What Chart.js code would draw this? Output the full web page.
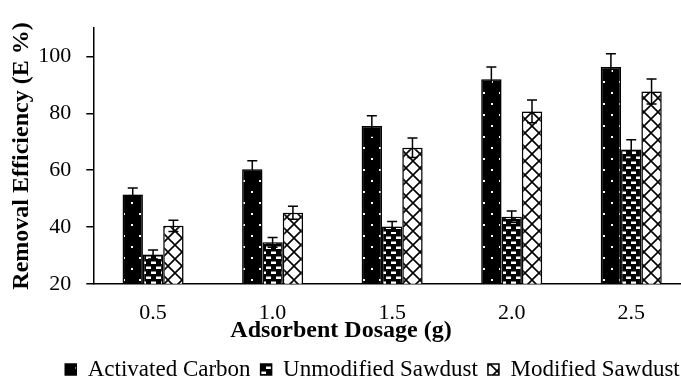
<!DOCTYPE html>
<html>
<head>
<meta charset="utf-8">
<script src="https://cdn.jsdelivr.net/npm/chart.js@4.4.1/dist/chart.umd.min.js"></script>
<style>
  html, body { margin: 0; padding: 0; background: #fff; overflow: hidden; width: 681px; height: 379px; }
  #wrap { position: relative; width: 691px; height: 391px; }
</style>
</head>
<body>
<div id="wrap"><canvas id="barChart" width="691" height="391"></canvas></div>
<script>
// data
const dosages = ['0.5', '1.0', '1.5', '2.0', '2.5'];
const activatedCarbon = [51.4, 60.3, 75.6, 92.0, 96.3];
const unmodifiedSawdust = [30.3, 34.6, 40.2, 43.6, 67.3];
const modifiedSawdust = [40.4, 45.0, 67.9, 80.7, 87.7];
const errActivated = [2.3, 3.0, 3.6, 4.3, 4.7];
const errUnmodified = [1.6, 1.7, 1.7, 2.0, 3.4];
const errModified = [2.0, 2.3, 3.4, 4.0, 4.4];

const FONT = "'Liberation Serif', 'Times New Roman', serif";

// fill patterns
function makePattern(w, h, paint) {
    const c = document.createElement('canvas');
    c.width = w; c.height = h;
    paint(c.getContext('2d'));
    return document.getElementById('barChart').getContext('2d').createPattern(c, 'repeat');
}
const dots = makePattern(16, 22, g => {
    g.fillStyle = '#000'; g.fillRect(0, 0, 16, 22);
    g.fillStyle = '#fff';
    g.fillRect(3, 4, 2, 2);
    g.fillRect(11, 15, 2, 2);
});
const bricks = makePattern(10, 10, g => {
    g.fillStyle = '#000'; g.fillRect(0, 0, 10, 10);
    g.fillStyle = '#fff';
    g.fillRect(1, 1.5, 5, 2.5);
    g.fillRect(6, 6.5, 4, 2.5);
    g.fillRect(0, 6.5, 1, 2.5);
});
const trellis = makePattern(14, 14, g => {
    g.fillStyle = '#fff'; g.fillRect(0, 0, 14, 14);
    g.strokeStyle = '#000'; g.lineWidth = 1.6;
    g.beginPath();
    g.moveTo(-1, -1); g.lineTo(15, 15);
    g.moveTo(15, -1); g.lineTo(-1, 15);
    g.stroke();
});

const errors = [errActivated, errUnmodified, errModified];

// shadow under the bars + error bars on top
const barExtras = {
    id: 'barExtras',
    beforeDatasetsDraw(chart) {
        const ctx = chart.ctx;
        ctx.save();
        ctx.shadowColor = 'rgba(0,0,0,0.3)';
        ctx.shadowBlur = 5;
    },
    afterDatasetsDraw(chart) {
        const ctx = chart.ctx;
        ctx.restore();
        const y = chart.scales.y;
        ctx.save();
        ctx.strokeStyle = '#000';
        ctx.lineWidth = 1.5;
        chart.data.datasets.forEach((ds, i) => {
            chart.getDatasetMeta(i).data.forEach((bar, j) => {
                const v = ds.data[j], e = errors[i][j];
                const top = y.getPixelForValue(v + e);
                const bot = y.getPixelForValue(v - e);
                ctx.beginPath();
                ctx.moveTo(bar.x, top); ctx.lineTo(bar.x, bot);
                ctx.moveTo(bar.x - 5, top); ctx.lineTo(bar.x + 5, top);
                ctx.moveTo(bar.x - 5, bot); ctx.lineTo(bar.x + 5, bot);
                ctx.stroke();
            });
        });
        ctx.restore();
    }
};

// axis titles (placed as in the original figure)
const axisTitles = {
    id: 'axisTitles',
    afterDraw(chart) {
        const ctx = chart.ctx;
        ctx.save();
        ctx.fillStyle = '#000';
        ctx.font = "bold 24px " + FONT;
        ctx.textAlign = 'center';
        ctx.textBaseline = 'middle';
        ctx.fillText('Adsorbent Dosage (g)', 341, 331);
        ctx.translate(22, 156);
        ctx.rotate(-Math.PI / 2);
        ctx.fillText('Removal Efficiency (E %)', 0, 0);
        ctx.restore();
    }
};

// legend sits a bit right of the canvas centre in the original
const legendShift = {
    id: 'legendShift',
    afterLayout(chart) {
        chart.legend.left += 27;
        chart.legend.right += 27;
    }
};

const data = {
    labels: dosages,
    datasets: [{
        label: 'Activated Carbon',
        data: activatedCarbon,
        backgroundColor: dots,
        borderColor: '#000',
        borderWidth: 1.5
    },
    {
        label: 'Unmodified Sawdust',
        data: unmodifiedSawdust,
        backgroundColor: bricks,
        borderColor: '#000',
        borderWidth: 1.5
    },
    {
        label: 'Modified Sawdust',
        data: modifiedSawdust,
        backgroundColor: trellis,
        borderColor: '#000',
        borderWidth: 1.5
    }]
};

const options = {
    responsive: false,
    animation: false,
    layout: {
        padding: { top: 16, left: 0, right: 0, bottom: 0 }
    },
    datasets: {
        bar: { categoryPercentage: 0.51, barPercentage: 1.0 }
    },
    scales: {
        x: {
            grid: { display: false, drawTicks: false },
            border: { display: true, color: '#000', width: 1.5 },
            ticks: { color: '#000', font: { family: FONT, size: 22 }, padding: 16, maxRotation: 0 },
            afterFit(scale) { scale.height = 64.2; }
        },
        y: {
            min: 20,
            max: 110,
            grid: { drawOnChartArea: false, drawTicks: true, tickLength: 7, color: '#000', lineWidth: 1.5 },
            border: { display: true, color: '#000', width: 1.5 },
            ticks: { stepSize: 20, includeBounds: false, color: '#000', font: { family: FONT, size: 22 }, padding: 15 },
            afterFit(scale) { scale.width = 93.3; }
        }
    },
    plugins: {
        legend: {
            position: 'bottom',
            labels: {
                color: '#000',
                font: { family: FONT, size: 23 },
                boxWidth: 11,
                boxHeight: 11,
                padding: 10
            }
        },
        tooltip: { enabled: false }
    }
};

new Chart(document.getElementById('barChart'), {
    type: 'bar',
    data: data,
    options: options,
    plugins: [barExtras, axisTitles, legendShift]
});
</script>
</body>
</html>
